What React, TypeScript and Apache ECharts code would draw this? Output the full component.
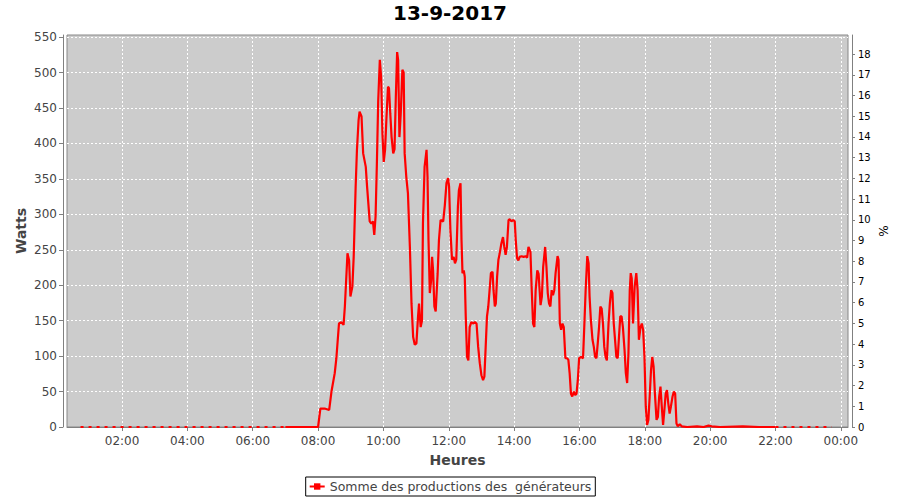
import React, { useEffect, useRef } from 'react';
import * as echarts from 'echarts';

const TITLE = '13-9-2017';
const SERIES_NAME = 'Somme des productions des  générateurs';
const X_NAME = 'Heures';
const Y_NAME = 'Watts';
const Y2_NAME = '%';

const HOUR_TICKS = [2, 4, 6, 8, 10, 12, 14, 16, 18, 20, 22, 24];
const WATT_TICKS = [0, 50, 100, 150, 200, 250, 300, 350, 400, 450, 500, 550];
const PCT_TICKS = [0, 1, 2, 3, 4, 5, 6, 7, 8, 9, 10, 11, 12, 13, 14, 15, 16, 17, 18];

// [heure décimale, watts] — night hours drawn dotted
const NIGHT: [number, number | null][] = [[0.73, 0], [7.0, 0], [14, null], [22.0, 0], [23.72, 0]];

const MORNING: [number, number][] = [
  [7.00, 0], [8.00, 0], [8.07, 26], [8.20, 26], [8.34, 24], [8.41, 50], [8.51, 76], [8.56, 97],
  [8.64, 146], [8.71, 148], [8.78, 144], [8.82, 170], [8.90, 245], [8.95, 235], [8.99, 184],
  [9.05, 198], [9.09, 240], [9.15, 339], [9.19, 391], [9.24, 433], [9.27, 445], [9.33, 438],
  [9.38, 386], [9.46, 367], [9.50, 339], [9.58, 290], [9.63, 287], [9.68, 290], [9.72, 271],
  [9.76, 297], [9.80, 372], [9.84, 459], [9.89, 518], [9.93, 494], [9.97, 414],
];

const LATE_MORNING: [number, number][] = [
  [10.01, 374], [10.05, 391], [10.09, 433], [10.14, 480], [10.17, 478], [10.21, 442], [10.25, 409],
  [10.30, 386], [10.34, 392], [10.38, 466], [10.42, 529], [10.45, 518], [10.49, 409], [10.53, 442],
  [10.58, 504], [10.62, 500], [10.65, 386], [10.70, 353], [10.75, 330], [10.81, 254], [10.86, 174],
  [10.91, 127], [10.96, 116], [11.01, 118], [11.06, 156], [11.09, 174], [11.14, 141], [11.18, 150],
  [11.21, 287], [11.26, 367], [11.32, 391], [11.35, 353], [11.38, 264], [11.42, 189], [11.46, 207],
  [11.49, 240], [11.52, 221], [11.56, 170], [11.60, 163], [11.66, 217], [11.70, 264], [11.75, 292],
  [11.83, 290], [11.88, 313], [11.93, 344], [11.98, 351],
];

const MIDDAY: [number, number][] = [
  [12.01, 339], [12.05, 278], [12.10, 236], [12.15, 240], [12.19, 231], [12.23, 236], [12.28, 311],
  [12.31, 334], [12.36, 344], [12.39, 264], [12.42, 217], [12.46, 221], [12.49, 212], [12.52, 156],
  [12.56, 99], [12.60, 94], [12.64, 141], [12.69, 148], [12.74, 146], [12.80, 148], [12.85, 146],
  [12.90, 113], [12.95, 90], [13.00, 73], [13.05, 66], [13.09, 71], [13.13, 113], [13.17, 156],
  [13.21, 170], [13.25, 193], [13.29, 217], [13.34, 219], [13.37, 193], [13.41, 170], [13.44, 174],
  [13.48, 212], [13.52, 236], [13.56, 245], [13.61, 259], [13.66, 268], [13.70, 254], [13.74, 243],
  [13.78, 254], [13.83, 292], [13.87, 293], [13.92, 290], [13.97, 292],
];

const AFTERNOON: [number, number][] = [
  [14.02, 290], [14.05, 264], [14.09, 238], [14.13, 235], [14.17, 240], [14.23, 241], [14.29, 240],
  [14.35, 241], [14.40, 239], [14.44, 254], [14.50, 247], [14.54, 193], [14.58, 146], [14.62, 141],
  [14.66, 193], [14.71, 221], [14.75, 216], [14.81, 172], [14.85, 184], [14.89, 226], [14.92, 240],
  [14.95, 254], [14.99, 226], [15.03, 189], [15.07, 174], [15.11, 170], [15.15, 193], [15.19, 186],
  [15.23, 193], [15.27, 217], [15.33, 241], [15.36, 236], [15.40, 146], [15.44, 137], [15.48, 146],
  [15.52, 141], [15.57, 97], [15.62, 97], [15.66, 95], [15.70, 76], [15.74, 47], [15.78, 43],
  [15.83, 50], [15.87, 45], [15.91, 47], [15.95, 66], [15.99, 97],
];

const LATE_AFTERNOON: [number, number][] = [
  [16.05, 99], [16.11, 97], [16.15, 144], [16.19, 193], [16.24, 241], [16.28, 231], [16.31, 184],
  [16.35, 151], [16.40, 123], [16.44, 113], [16.48, 99], [16.52, 97], [16.56, 118], [16.60, 141],
  [16.64, 170], [16.68, 167], [16.72, 146], [16.76, 113], [16.80, 99], [16.84, 94], [16.89, 146],
  [16.93, 174], [16.97, 193], [17.01, 189], [17.05, 146], [17.09, 123], [17.13, 99], [17.17, 97],
  [17.21, 127], [17.25, 156], [17.29, 156], [17.33, 141], [17.38, 109], [17.42, 76], [17.46, 62],
  [17.50, 104], [17.54, 193], [17.57, 217], [17.60, 210], [17.64, 146], [17.69, 198], [17.74, 217],
  [17.78, 193], [17.82, 123], [17.87, 141], [17.91, 146], [17.95, 137], [17.99, 99],
];

const EVENING: [number, number][] = [
  [18.03, 29], [18.07, 3], [18.11, 10], [18.15, 43], [18.19, 80], [18.23, 99], [18.27, 85],
  [18.31, 47], [18.36, 10], [18.40, 14], [18.44, 43], [18.48, 57], [18.52, 29], [18.56, 3],
  [18.60, 24], [18.64, 47], [18.68, 52], [18.72, 33], [18.76, 19], [18.80, 29], [18.85, 43],
  [18.89, 50], [18.93, 47], [18.97, 5], [19.01, 1], [19.07, 4], [19.13, 1], [19.30, 0],
  [19.60, 1], [19.80, 0], [19.95, 2], [20.05, 1], [20.30, 0], [21.00, 1], [21.50, 0], [22.00, 0],
];

const PRODUCTION = [...MORNING, ...LATE_MORNING, ...MIDDAY, ...AFTERNOON, ...LATE_AFTERNOON, ...EVENING];

const FONT = 'DejaVu Sans';
const fmtHour = (v: number) => String(Math.round(v) % 24).padStart(2, '0') + ':00';

export default function App() {
  const ref = useRef<HTMLDivElement>(null);
  useEffect(() => {
    if (!ref.current) return;
    const chart = echarts.init(ref.current, undefined, { renderer: 'svg' });
    chart.setOption({
      animation: false,
      backgroundColor: '#ffffff',
      textStyle: { fontFamily: FONT },
      title: {
        text: TITLE,
        left: 'center',
        top: 0,
        padding: [3, 5],
        textStyle: { fontSize: 20, fontWeight: 'bold', color: '#000', fontFamily: FONT },
      },
      legend: {
        data: [SERIES_NAME],
        left: 'center',
        top: 477,
        padding: [3, 4, 3, 3],
        itemWidth: 15,
        itemHeight: 8,
        borderColor: '#000',
        borderWidth: 1,
        backgroundColor: '#fff',
        textStyle: { fontSize: 12.5, color: '#444', fontFamily: FONT },
      },
      grid: {
        left: 67, right: 52, top: 35, bottom: 73,
        show: true, backgroundColor: '#cccccc', borderColor: '#888888', borderWidth: 1,
      },
      xAxis: {
        type: 'value',
        min: 0.315,
        max: 24.22,
        offset: 4,
        name: X_NAME,
        nameLocation: 'middle',
        nameGap: 22,
        nameMoveOverlap: false,
        nameTextStyle: { fontSize: 14, fontWeight: 'bold', color: '#444', fontFamily: FONT },
        axisLine: { show: true, lineStyle: { color: '#808080' } },
        axisTick: { show: true, customValues: HOUR_TICKS, length: 4, lineStyle: { color: '#808080' } },
        axisLabel: { customValues: HOUR_TICKS, formatter: fmtHour, fontSize: 12, color: '#444', margin: 4 },
        splitLine: { show: false },
      },
      yAxis: [
        {
          type: 'value',
          min: 0,
          max: 553,
          interval: 50,
          offset: 4,
          position: 'left',
          name: Y_NAME,
          nameLocation: 'middle',
          nameGap: 35,
          nameMoveOverlap: false,
          nameRotate: 90,
          nameTextStyle: { fontSize: 14, fontWeight: 'bold', color: '#444', fontFamily: FONT },
          axisLine: { show: true, lineStyle: { color: '#808080' } },
          axisTick: { show: true, customValues: WATT_TICKS, length: 4, lineStyle: { color: '#808080' } },
          axisLabel: { customValues: WATT_TICKS, fontSize: 12, color: '#444', margin: 6 },
          splitLine: { show: true, lineStyle: { color: '#ffffff', type: [2, 2], width: 1 } },
        },
        {
          type: 'value',
          min: 0,
          max: 18.92,
          interval: 1,
          offset: 4,
          position: 'right',
          name: Y2_NAME,
          nameLocation: 'middle',
          nameGap: 26,
          nameMoveOverlap: false,
          nameRotate: 90,
          nameTextStyle: { fontSize: 12, color: '#000', fontFamily: FONT },
          axisLine: { show: true, lineStyle: { color: '#808080' } },
          axisTick: { show: true, customValues: PCT_TICKS, length: 3, lineStyle: { color: '#808080' } },
          axisLabel: { customValues: PCT_TICKS, fontSize: 10, color: '#000', margin: 6 },
          splitLine: { show: false },
        },
      ],
      series: [
        {
          name: 'nuit',
          type: 'line',
          data: NIGHT,
          showSymbol: false,
          symbol: 'none',
          connectNulls: false,
          z: 2,
          silent: true,
          lineStyle: { color: '#ff0000', width: 2, type: [3, 5] },
          markLine: {
            silent: true,
            z: 1,
            symbol: ['none', 'none'],
            label: { show: false },
            lineStyle: { color: '#ffffff', type: [2, 2], width: 1 },
            data: HOUR_TICKS.map((h) => ({ xAxis: h })),
          },
        },
        {
          name: SERIES_NAME,
          type: 'line',
          data: PRODUCTION,
          showSymbol: false,
          symbol: 'rect',
          symbolSize: 4,
          z: 3,
          lineStyle: { color: '#ff0000', width: 2.2 },
          itemStyle: { color: '#ff0000' },
        },
      ],
    });
    return () => chart.dispose();
  }, []);
  return <div ref={ref} style={{ position: 'fixed', left: 0, top: 0, width: 900, height: 500 }} />;
}
